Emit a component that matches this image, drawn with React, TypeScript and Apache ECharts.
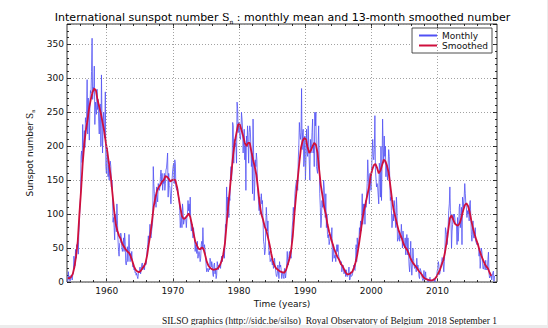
import React, { useEffect, useRef } from "react";
import * as echarts from "echarts";

// ---- Monthly mean sunspot number (one value per month, starting Jan 1954) ----
const monthlyStartYear = 1954;
const monthly1950s = [
  0.3, 1.8, 15.2, 3.6, 8.5, 1.2, 4.7, 10.1, 6.2, 2.9, 11.5, 14.0,
  38, 32, 24, 48, 35, 55, 52, 58, 41, 73, 88, 112,
  124, 185, 193, 176, 232, 183, 205, 223, 198, 242, 235, 243,
  298, 218, 271, 245, 209, 256, 282, 278, 310, 359, 269, 287,
  282, 318, 232, 265, 254, 247, 284, 254, 269, 237, 218, 259,
  262, 200, 305, 238, 190, 233, 250, 228, 212, 280, 170, 160,
];
const monthly1960s = [
  190, 197, 155, 172, 150, 172, 178, 170, 140, 150, 135, 88,
  95, 80, 62, 100, 88, 74, 115, 90, 63, 45, 38, 57,
  58, 72, 67, 51, 45, 52, 65, 45, 72, 60, 28, 25,
  32, 52, 30, 45, 70, 48, 30, 42, 35, 45, 30, 22,
  25, 18, 20, 14, 15, 10, 13, 8, 5, 12, 15, 18,
  22, 12, 18, 25, 28, 18, 20, 24, 18, 28, 25, 26,
  38, 48, 55, 68, 59, 70, 85, 68, 65, 75, 82, 90,
  170, 145, 130, 115, 125, 110, 140, 125, 118, 145, 140, 135,
  140, 155, 165, 145, 160, 135, 150, 145, 160, 135, 145, 165,
  168, 178, 190, 125, 160, 142, 140, 128, 115, 130, 150, 162,
];
const monthly1970s = [
  170, 175, 145, 180, 175, 140, 140, 135, 140, 130, 125, 120,
  105, 80, 90, 105, 80, 115, 105, 85, 90, 90, 95, 92,
  80, 95, 100, 120, 105, 115, 100, 125, 88, 75, 82, 85,
  65, 80, 70, 62, 45, 55, 50, 42, 60, 35, 40, 45,
  40, 30, 35, 55, 60, 48, 80, 55, 50, 55, 45, 38,
  22, 15, 20, 18, 15, 20, 18, 35, 30, 22, 30, 25,
  12, 8, 25, 28, 12, 20, 5, 10, 30, 25, 18, 25,
  22, 25, 20, 30, 38, 30, 35, 40, 50, 35, 60, 85,
  80, 140, 105, 125, 120, 95, 125, 120, 155, 170, 150, 165,
  235, 230, 175, 210, 200, 205, 200, 175, 265, 255, 220, 235,
];
const monthly1980s = [
  230, 215, 210, 220, 250, 240, 225, 190, 210, 225, 180, 200,
  135, 215, 200, 230, 205, 175, 220, 230, 225, 200, 170, 190,
  130, 240, 190, 120, 140, 180, 170, 190, 180, 140, 130, 130,
  105, 125, 100, 115, 130, 115, 120, 95, 60, 55, 40, 45,
  80, 110, 95, 75, 90, 60, 40, 45, 30, 30, 35, 35,
  25, 30, 20, 25, 35, 25, 25, 10, 8, 12, 25, 15,
  5, 30, 22, 25, 18, 5, 12, 15, 8, 5, 20, 12,
  6, 15, 25, 45, 30, 25, 38, 45, 35, 40, 35, 65,
  80, 90, 110, 100, 95, 130, 140, 140, 150, 150, 135, 180,
  200, 235, 220, 210, 220, 285, 195, 220, 225, 170, 180, 215,
];
const monthly1990s = [
  150, 180, 225, 190, 185, 230, 200, 200, 150, 210, 190, 200,
  220, 240, 190, 205, 170, 250, 230, 250, 170, 170, 160, 200,
  230, 180, 130, 110, 80, 90, 120, 110, 120, 150, 140, 140,
  95, 130, 80, 100, 70, 65, 70, 55, 60, 60, 70, 65,
  80, 30, 40, 55, 35, 35, 40, 30, 30, 55, 45, 55,
  40, 35, 35, 30, 25, 30, 15, 20, 25, 25, 12, 15,
  18, 8, 18, 10, 8, 10, 15, 22, 3, 4, 15, 8,
  8, 10, 15, 20, 25, 18, 17, 35, 55, 30, 65, 50,
  50, 60, 80, 70, 90, 75, 90, 130, 85, 115, 100, 115,
  85, 120, 110, 125, 145, 180, 160, 140, 115, 160, 150, 135,
];
const monthly2000s = [
  135, 190, 210, 185, 180, 195, 245, 165, 165, 140, 145, 140,
  140, 115, 175, 165, 125, 200, 120, 170, 240, 200, 175, 215,
  185, 200, 155, 175, 175, 150, 150, 195, 185, 150, 120, 125,
  105, 80, 90, 100, 90, 120, 110, 90, 80, 125, 110, 60,
  60, 65, 75, 60, 70, 65, 85, 70, 50, 75, 65, 55,
  50, 65, 40, 40, 70, 40, 65, 45, 25, 15, 30, 60,
  25, 10, 25, 50, 35, 25, 20, 22, 25, 15, 35, 20,
  25, 20, 8, 5, 20, 20, 15, 10, 5, 2, 3, 17,
  5, 3, 15, 4, 4, 5, 1, 0, 2, 5, 7, 1,
  2, 2, 1, 2, 4, 5, 5, 0, 7, 7, 7, 16,
];
const monthly2010s = [
  20, 30, 25, 11, 13, 20, 26, 30, 36, 35, 25, 15,
  30, 45, 80, 80, 70, 55, 65, 65, 105, 115, 140, 105,
  95, 50, 75, 85, 100, 90, 100, 95, 85, 85, 85, 55,
  95, 60, 75, 110, 115, 80, 90, 110, 55, 125, 118, 110,
  125, 145, 130, 115, 110, 95, 105, 100, 110, 90, 115, 120,
  95, 70, 60, 75, 90, 65, 65, 65, 80, 60, 60, 55,
  55, 57, 55, 38, 50, 20, 32, 50, 45, 35, 20, 19,
  26, 27, 18, 32, 18, 19, 18, 33, 44, 13, 6, 8,
  7, 11, 3, 9, 14, 16, 1, 9,
];

// ---- 13-month smoothed number, sampled in Feb, May, Aug, Nov of each year from 1954 ----
const smoothedStartYear = 1954;
const smoothed1950s = [
  5.9, 5.3, 7.5, 12, 22, 38, 60, 100, 135, 175, 205, 225,
  240, 258, 270, 280, 285, 282, 268, 258, 248, 235, 222, 205,
];
const smoothed1960s = [
  190, 172, 155, 130, 105, 85, 75, 68, 63, 56, 52, 48,
  45, 43, 38, 31, 23, 18, 15.5, 14.5, 16, 20, 23, 28,
  40, 57, 72, 92, 112, 125, 135, 140, 143, 148, 150, 156,
  155, 152, 148, 150,
];
const smoothed1970s = [
  151, 150, 140, 125, 110, 97, 93, 94, 97, 101, 96, 85,
  72, 60, 54, 49, 48, 51, 49, 40, 30, 24, 21, 19,
  18, 18.5, 19, 21, 25, 31, 41, 57, 85, 113, 137, 163,
  188, 207, 220, 232,
];
const smoothed1980s = [
  232, 224, 215, 205, 200, 205, 205, 192, 180, 170, 158, 138,
  115, 100, 92, 82, 76, 66, 55, 42, 31, 24, 20, 18,
  16, 15, 14, 14, 18, 26, 34, 46, 67, 100, 127, 152,
  176, 198, 208, 212,
];
const smoothed1990s = [
  210, 198, 190, 194, 200, 205, 202, 190, 165, 142, 127, 110,
  100, 85, 74, 65, 57, 49, 43, 37, 33, 27, 24, 19,
  14, 11.3, 11.7, 13, 15, 21, 29, 40, 55, 72, 90, 105,
  115, 127, 138, 155,
];
const smoothed2000s = [
  165, 172, 174, 168, 160, 164, 172, 180, 178, 171, 161, 142,
  122, 106, 96, 86, 76, 70, 64, 56, 51, 48, 43, 36,
  31, 27, 24, 21, 17, 14, 11, 7, 5, 4, 3.2, 2.4,
  2.4, 3, 5, 8,
];
const smoothed2010s = [
  13, 18, 25, 32, 43, 58, 76, 94, 98, 92, 86, 84,
  83, 87, 95, 105, 113, 116, 112, 103, 90, 79, 70, 62,
  55, 46, 39, 33, 27, 23, 20, 14, 9,
];

const monthlyValues = [
  ...monthly1950s, ...monthly1960s, ...monthly1970s, ...monthly1980s,
  ...monthly1990s, ...monthly2000s, ...monthly2010s,
];
const smoothedValues = [
  ...smoothed1950s, ...smoothed1960s, ...smoothed1970s, ...smoothed1980s,
  ...smoothed1990s, ...smoothed2000s, ...smoothed2010s,
];

// ---- Axes ----
const xMin = 1954;
const xMax = 2019;
const xMajorTicks = [1960, 1970, 1980, 1990, 2000, 2010];
const xMinorTicks = [
  1956, 1958, 1962, 1964, 1966, 1968, 1972, 1974, 1976, 1978, 1982, 1984, 1986,
  1988, 1992, 1994, 1996, 1998, 2002, 2004, 2006, 2008, 2012, 2014, 2016, 2018,
];
const yMin = 0;
const yMax = 380;
const yInterval = 50;

const SANS = "DejaVu Sans";
const SERIF = "DejaVu Serif";
const BLUE = "#5050f4";
const RED = "#cf0f3c";

export default function App() {
  const ref = useRef<HTMLDivElement>(null);

  useEffect(() => {
    document.body.style.margin = "0";
    if (!ref.current) return;
    const chart = echarts.init(ref.current, undefined, { renderer: "svg" });

    const monthlyPoints = monthlyValues.map((v, i) => [
      monthlyStartYear + (i + 0.5) / 12,
      v,
    ]);
    const smoothedPoints = smoothedValues.map((v, i) => [
      smoothedStartYear + (3 * i + 1.5) / 12,
      v,
    ]);

    const tickLine = { color: "#000", width: 0.8 };
    const baseX = {
      type: "value" as const,
      min: xMin,
      max: xMax,
      axisLine: { show: false },
      splitLine: { show: false },
    };
    const majorTick = {
      show: true,
      inside: true,
      length: 4,
      customValues: xMajorTicks,
      lineStyle: tickLine,
    };
    const minorTickX = {
      show: true,
      inside: true,
      length: 2,
      customValues: xMinorTicks,
      lineStyle: tickLine,
    };

    const nameRich = {
      a: { fontFamily: SANS, fontSize: 9, color: "#111", lineHeight: 12 },
      s: { fontFamily: SERIF, fontSize: 9, color: "#111", lineHeight: 12 },
      n: {
        fontFamily: SERIF,
        fontSize: 5,
        color: "#111",
        lineHeight: 7,
        verticalAlign: "bottom",
      },
    };

    chart.setOption({
      animation: false,
      backgroundColor: "#fff",
      grid: {
        left: 67,
        right: 50,
        top: 24,
        bottom: 43,
        show: true,
        borderColor: "#000",
        borderWidth: 0.8,
        backgroundColor: "transparent",
        outerBoundsMode: "none",
      },
      legend: {
        data: ["Monthly", "Smoothed"],
        orient: "vertical",
        right: 55,
        top: 28,
        itemWidth: 18,
        itemHeight: 8,
        itemGap: 1,
        padding: [3, 4, 3, 6],
        backgroundColor: "#fff",
        borderColor: "#222",
        borderWidth: 0.8,
        selectedMode: false,
        itemStyle: { opacity: 0 },
        textStyle: { fontFamily: SANS, fontSize: 9, color: "#111" },
      },
      xAxis: [
        {
          ...baseX,
          position: "bottom",
          axisTick: majorTick,
          axisLabel: {
            show: true,
            customValues: xMajorTicks,
            formatter: (v: number) => String(v),
            fontFamily: SANS,
            fontSize: 9,
            color: "#111",
            margin: 4,
          },
          name: "Time (years)",
          nameLocation: "middle",
          nameGap: 14,
          nameTextStyle: { fontFamily: SANS, fontSize: 9, color: "#111", verticalAlign: "top" },
        },
        { ...baseX, position: "bottom", axisTick: minorTickX, axisLabel: { show: false } },
        { ...baseX, position: "top", axisTick: majorTick, axisLabel: { show: false } },
        { ...baseX, position: "top", axisTick: minorTickX, axisLabel: { show: false } },
      ],
      yAxis: [
        {
          type: "value",
          min: yMin,
          max: yMax,
          interval: yInterval,
          position: "left",
          axisLine: { show: false },
          axisTick: { show: true, inside: true, length: 4, lineStyle: tickLine },
          minorTick: { show: true, splitNumber: 5, length: 2, lineStyle: tickLine },
          axisLabel: {
            showMaxLabel: false,
            fontFamily: SANS,
            fontSize: 9,
            color: "#111",
            margin: 3,
          },
          splitLine: {
            show: true,
            lineStyle: { color: "#8a8a8a", type: [1, 2], width: 0.8 },
          },
          name: "{a|Sunspot number }{s|S}{n|n}",
          nameLocation: "middle",
          nameGap: 22,
          nameTextStyle: { rich: nameRich },
        },
        {
          type: "value",
          min: yMin,
          max: yMax,
          interval: yInterval,
          position: "right",
          axisLine: { show: false },
          axisTick: { show: true, inside: true, length: 4, lineStyle: tickLine },
          minorTick: { show: true, splitNumber: 5, length: 2, lineStyle: tickLine },
          axisLabel: { show: false },
          splitLine: { show: false },
        },
      ],
      series: [
        {
          type: "line",
          data: [],
          silent: true,
          z: 1,
          markLine: {
            silent: true,
            symbol: "none",
            label: { show: false },
            lineStyle: { color: "#8a8a8a", type: [1, 2], width: 0.8 },
            data: xMajorTicks.map((v) => ({ xAxis: v })),
          },
        },
        {
          name: "Monthly",
          type: "line",
          data: monthlyPoints,
          symbol: "none",
          silent: true,
          z: 3,
          lineStyle: { color: BLUE, width: 0.8 },
          itemStyle: { color: BLUE },
        },
        {
          name: "Smoothed",
          type: "line",
          data: smoothedPoints,
          symbol: "none",
          silent: true,
          z: 4,
          lineStyle: { color: RED, width: 1.8 },
          itemStyle: { color: RED },
        },
      ],
      graphic: [
        {
          type: "text",
          x: 282.5,
          y: 17,
          silent: true,
          style: {
            text:
              "{a|International sunspot number }{s|S}{n|n}{a| : monthly mean and 13-month smoothed number}",
            align: "center",
            verticalAlign: "middle",
            rich: {
              a: { fontFamily: SANS, fontSize: 11, color: "#000", lineHeight: 14 },
              s: { fontFamily: SERIF, fontSize: 11, color: "#444", lineHeight: 14 },
              n: {
                fontFamily: SERIF,
                fontSize: 6,
                color: "#444",
                lineHeight: 8,
                verticalAlign: "bottom",
              },
            },
          },
        },
        {
          type: "text",
          x: 497,
          y: 321,
          silent: true,
          style: {
            text: "SILSO graphics (http://sidc.be/silso)  Royal Observatory of Belgium  2018 September 1",
            align: "right",
            verticalAlign: "middle",
            fontFamily: "Liberation Serif",
            fontSize: 9.5,
            fill: "#111",
          },
        },
      ],
    });

    return () => chart.dispose();
  }, []);

  return (
    <div style={{ width: 548, height: 328, background: "#ececec", position: "relative" }}>
      <div ref={ref} style={{ width: 547, height: 325, background: "#fff" }} />
    </div>
  );
}
